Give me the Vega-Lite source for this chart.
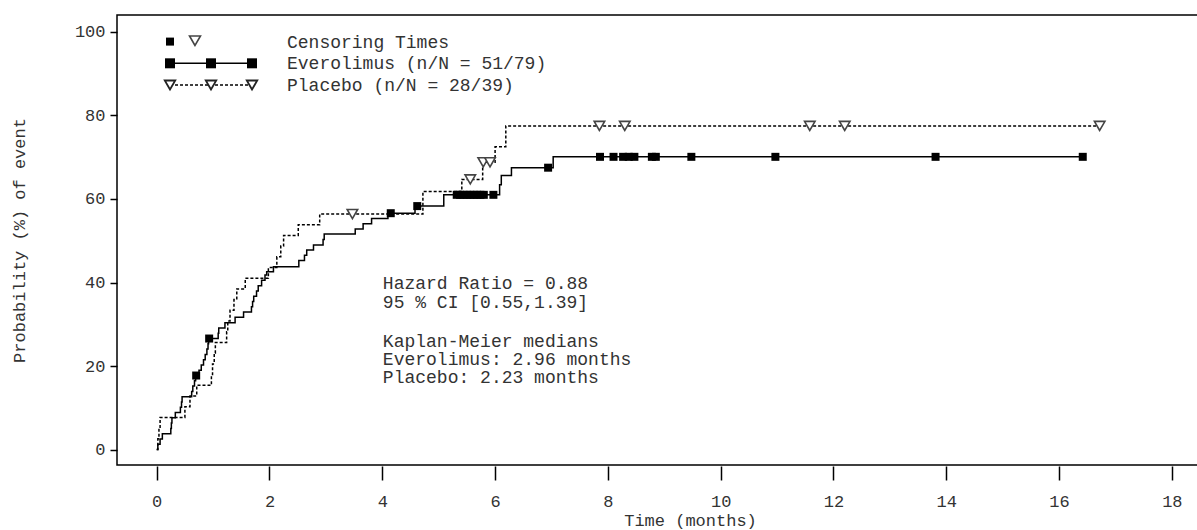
{
 "$schema": "https://vega.github.io/schema/vega-lite/v6.json",
 "autosize": {"type": "none"},
 "padding": {"left": 117, "top": 15, "right": 0, "bottom": 65},
 "width": 1146,
 "height": 450,
 "background": "white",
 "config": {
  "view": {"stroke": "black", "strokeWidth": 1.5},
  "font": "Liberation Mono",
  "axis": {"labelFont": "Liberation Mono", "titleFont": "Liberation Mono", "labelFontSize": 17, "titleFontSize": 17, "titleFontWeight": "normal", "labelColor": "#333", "titleColor": "#333", "tickColor": "black", "tickWidth": 1.5, "domain": false, "grid": false}
 },
 "datasets": {
  "ever": [
   {"t":0,"p":0},{"t":0.02,"p":1.27},{"t":0.06,"p":2.53},{"t":0.10,"p":3.80},{"t":0.25,"p":5.06},{"t":0.26,"p":6.33},{"t":0.27,"p":7.59},{"t":0.33,"p":8.86},{"t":0.42,"p":10.13},{"t":0.44,"p":11.39},{"t":0.45,"p":12.66},{"t":0.62,"p":13.92},{"t":0.64,"p":15.19},{"t":0.67,"p":16.46},{"t":0.69,"p":17.72},{"t":0.75,"p":18.99},{"t":0.79,"p":20.25},{"t":0.83,"p":21.52},{"t":0.86,"p":22.78},{"t":0.89,"p":24.05},{"t":0.91,"p":25.32},{"t":0.92,"p":26.58},{"t":1.09,"p":27.85},{"t":1.10,"p":29.11},{"t":1.21,"p":30.38},{"t":1.39,"p":31.65},{"t":1.54,"p":32.91},{"t":1.68,"p":34.18},{"t":1.70,"p":35.44},{"t":1.72,"p":36.71},{"t":1.77,"p":37.97},{"t":1.80,"p":39.24},{"t":1.86,"p":40.51},{"t":1.92,"p":41.77},{"t":1.95,"p":42.6},{"t":2.07,"p":43.8},{"t":2.52,"p":45.3},{"t":2.62,"p":46.5},{"t":2.66,"p":47.8},{"t":2.78,"p":49.0},{"t":2.95,"p":50.3},{"t":2.97,"p":51.6},{"t":3.52,"p":52.8},{"t":3.66,"p":54.1},{"t":3.81,"p":55.3},{"t":4.10,"p":56.6},{"t":4.58,"p":58.3},{"t":5.09,"p":61.0},{"t":6.08,"p":63.4},{"t":6.11,"p":65.6},{"t":6.29,"p":67.5},{"t":7.03,"p":70.1},{"t":16.42,"p":70.1}
  ],
  "plac": [
   {"t":0,"p":0},{"t":0.02,"p":2.56},{"t":0.04,"p":5.13},{"t":0.06,"p":7.69},{"t":0.50,"p":10.26},{"t":0.59,"p":12.82},{"t":0.71,"p":15.38},{"t":0.97,"p":17.95},{"t":0.99,"p":20.51},{"t":1.02,"p":23.08},{"t":1.04,"p":25.64},{"t":1.24,"p":28.21},{"t":1.26,"p":30.77},{"t":1.30,"p":33.33},{"t":1.37,"p":35.9},{"t":1.42,"p":38.46},{"t":1.57,"p":41.03},{"t":1.98,"p":43.59},{"t":2.13,"p":46.15},{"t":2.20,"p":48.72},{"t":2.25,"p":51.28},{"t":2.51,"p":53.85},{"t":2.89,"p":56.41},{"t":4.72,"p":61.8},{"t":5.41,"p":64.7},{"t":5.78,"p":68.8},{"t":6.00,"p":72.5},{"t":6.19,"p":77.5},{"t":16.72,"p":77.5}
  ],
  "everCens": [
   {"t":0.70,"p":17.72},{"t":0.93,"p":26.58},{"t":4.15,"p":56.6},{"t":4.62,"p":58.3},{"t":5.32,"p":61.0},{"t":5.38,"p":61.0},{"t":5.44,"p":61.0},{"t":5.50,"p":61.0},{"t":5.56,"p":61.0},{"t":5.62,"p":61.0},{"t":5.68,"p":61.0},{"t":5.74,"p":61.0},{"t":5.80,"p":61.0},{"t":5.97,"p":61.0},{"t":6.94,"p":67.5},{"t":7.86,"p":70.1},{"t":8.10,"p":70.1},{"t":8.27,"p":70.1},{"t":8.37,"p":70.1},{"t":8.47,"p":70.1},{"t":8.78,"p":70.1},{"t":8.85,"p":70.1},{"t":9.48,"p":70.1},{"t":10.97,"p":70.1},{"t":13.81,"p":70.1},{"t":16.42,"p":70.1}
  ],
  "placCens": [
   {"t":3.47,"p":56.41},{"t":5.56,"p":64.7},{"t":5.79,"p":68.8},{"t":5.91,"p":68.8},{"t":7.85,"p":77.5},{"t":8.30,"p":77.5},{"t":11.58,"p":77.5},{"t":12.20,"p":77.5},{"t":16.72,"p":77.5}
  ],
  "one": [{"k": 1}]
 },
 "layer": [
  {
   "data": {"name": "ever"},
   "mark": {"type": "line", "interpolate": "step-after", "color": "black", "strokeWidth": 1.5},
   "encoding": {
    "x": {"field": "t", "type": "quantitative", "scale": {"domain": [-0.704, 19.616], "nice": false, "zero": false}, "axis": {"values": [0,2,4,6,8,10,12,14,16,18], "format": "d", "tickSize": 14, "offset": 1, "labelPadding": 13, "title": "Time (months)", "titlePadding": 3, "labelFlush": false}},
    "y": {"field": "p", "type": "quantitative", "scale": {"domain": [-3.71, 104.07], "nice": false, "zero": false}, "axis": {"values": [0,20,40,60,80,100], "tickSize": 7, "labelPadding": 5, "title": "Probability (%) of event", "titlePadding": 46}}
   }
  },
  {
   "data": {"name": "plac"},
   "mark": {"type": "line", "interpolate": "step-after", "color": "black", "strokeWidth": 1.5, "strokeDash": [3, 2]},
   "encoding": {
    "x": {"field": "t", "type": "quantitative", "scale": {"domain": [-0.704, 19.616], "nice": false, "zero": false}},
    "y": {"field": "p", "type": "quantitative", "scale": {"domain": [-3.71, 104.07], "nice": false, "zero": false}}
   }
  },
  {
   "data": {"name": "everCens"},
   "mark": {"type": "point", "shape": "square", "filled": true, "color": "black", "size": 64, "opacity": 1},
   "encoding": {
    "x": {"field": "t", "type": "quantitative", "scale": {"domain": [-0.704, 19.616], "nice": false, "zero": false}},
    "y": {"field": "p", "type": "quantitative", "scale": {"domain": [-3.71, 104.07], "nice": false, "zero": false}}
   }
  },
  {
   "data": {"name": "placCens"},
   "mark": {"type": "point", "shape": "triangle-down", "filled": true, "fill": "white", "stroke": "#444", "strokeWidth": 1.6, "size": 110, "opacity": 1},
   "encoding": {
    "x": {"field": "t", "type": "quantitative", "scale": {"domain": [-0.704, 19.616], "nice": false, "zero": false}},
    "y": {"field": "p", "type": "quantitative", "scale": {"domain": [-3.71, 104.07], "nice": false, "zero": false}}
   }
  },
  {
   "data": {"name": "one"},
   "mark": {"type": "rule", "color": "black", "strokeWidth": 1.5},
   "encoding": {"x": {"datum": 0.236, "type": "quantitative"}, "x2": {"datum": 1.69}, "y": {"datum": 92.5, "type": "quantitative"}}
  },
  {
   "data": {"name": "one"},
   "mark": {"type": "rule", "color": "black", "strokeWidth": 1.5, "strokeDash": [3, 2]},
   "encoding": {"x": {"datum": 0.236, "type": "quantitative"}, "x2": {"datum": 1.69}, "y": {"datum": 87.3, "type": "quantitative"}}
  },
  {"data": {"name": "one"}, "mark": {"type": "point", "shape": "square", "filled": true, "color": "black", "size": 64, "opacity": 1}, "encoding": {"x": {"datum": 0.236, "type": "quantitative"}, "y": {"datum": 97.7, "type": "quantitative"}}},
  {"data": {"name": "one"}, "mark": {"type": "point", "shape": "triangle-down", "filled": true, "fill": "white", "stroke": "#444", "strokeWidth": 1.6, "size": 120, "opacity": 1}, "encoding": {"x": {"datum": 0.679, "type": "quantitative"}, "y": {"datum": 97.9, "type": "quantitative"}}},
  {"data": {"name": "one"}, "mark": {"type": "point", "shape": "square", "filled": true, "color": "black", "size": 100, "opacity": 1}, "encoding": {"x": {"datum": 0.236, "type": "quantitative"}, "y": {"datum": 92.5, "type": "quantitative"}}},
  {"data": {"name": "one"}, "mark": {"type": "point", "shape": "square", "filled": true, "color": "black", "size": 100, "opacity": 1}, "encoding": {"x": {"datum": 0.963, "type": "quantitative"}, "y": {"datum": 92.5, "type": "quantitative"}}},
  {"data": {"name": "one"}, "mark": {"type": "point", "shape": "square", "filled": true, "color": "black", "size": 100, "opacity": 1}, "encoding": {"x": {"datum": 1.69, "type": "quantitative"}, "y": {"datum": 92.5, "type": "quantitative"}}},
  {"data": {"name": "one"}, "mark": {"type": "point", "shape": "triangle-down", "filled": true, "fill": "white", "stroke": "#222", "strokeWidth": 1.8, "size": 110, "opacity": 1}, "encoding": {"x": {"datum": 0.236, "type": "quantitative"}, "y": {"datum": 87.3, "type": "quantitative"}}},
  {"data": {"name": "one"}, "mark": {"type": "point", "shape": "triangle-down", "filled": true, "fill": "white", "stroke": "#222", "strokeWidth": 1.8, "size": 110, "opacity": 1}, "encoding": {"x": {"datum": 0.963, "type": "quantitative"}, "y": {"datum": 87.3, "type": "quantitative"}}},
  {"data": {"name": "one"}, "mark": {"type": "point", "shape": "triangle-down", "filled": true, "fill": "white", "stroke": "#222", "strokeWidth": 1.8, "size": 110, "opacity": 1}, "encoding": {"x": {"datum": 1.69, "type": "quantitative"}, "y": {"datum": 87.3, "type": "quantitative"}}},
  {
   "data": {"name": "one"},
   "mark": {"type": "text", "align": "left", "baseline": "alphabetic", "font": "Liberation Mono", "fontSize": 18, "color": "#333", "lineHeight": 21.6, "text": ["Censoring Times", "Everolimus (n/N = 51/79)", "Placebo (n/N = 28/39)"]},
   "encoding": {"x": {"datum": 2.31, "type": "quantitative"}, "y": {"datum": 96.2, "type": "quantitative"}}
  },
  {
   "data": {"name": "one"},
   "mark": {"type": "text", "align": "left", "baseline": "alphabetic", "font": "Liberation Mono", "fontSize": 18, "color": "#333", "lineHeight": 18.5, "text": ["Hazard Ratio = 0.88", "95 % CI [0.55,1.39]"]},
   "encoding": {"x": {"datum": 4.01, "type": "quantitative"}, "y": {"datum": 38.4, "type": "quantitative"}}
  },
  {
   "data": {"name": "one"},
   "mark": {"type": "text", "align": "left", "baseline": "alphabetic", "font": "Liberation Mono", "fontSize": 18, "color": "#333", "lineHeight": 17.9, "text": ["Kaplan-Meier medians", "Everolimus: 2.96 months", "Placebo: 2.23 months"]},
   "encoding": {"x": {"datum": 4.01, "type": "quantitative"}, "y": {"datum": 24.5, "type": "quantitative"}}
  }
 ]
}
